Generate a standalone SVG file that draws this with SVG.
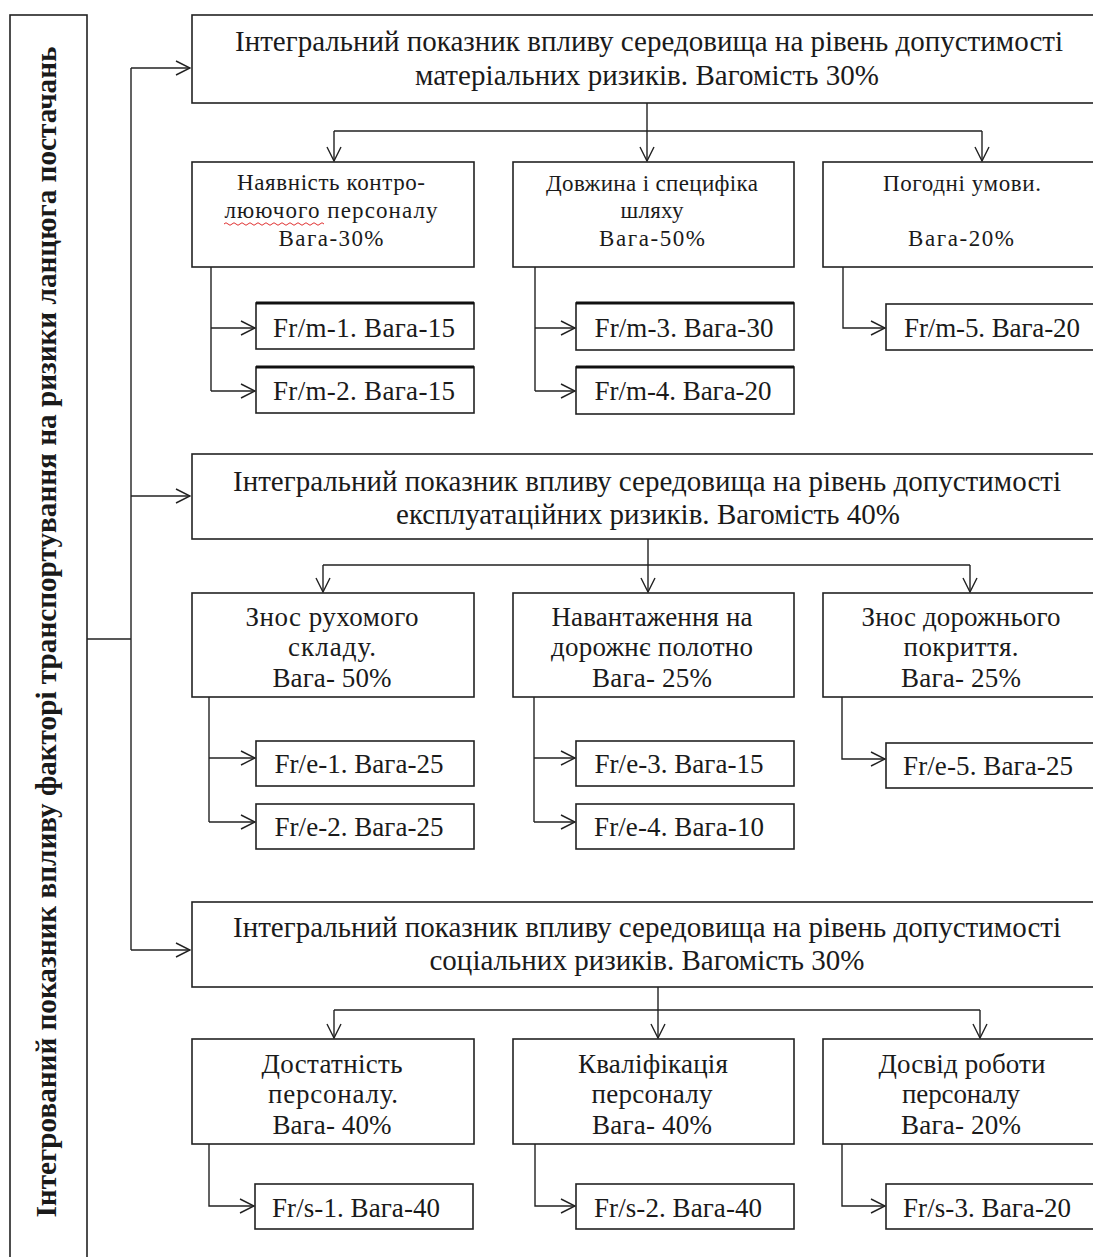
<svg xmlns="http://www.w3.org/2000/svg" width="1093" height="1257" viewBox="0 0 1093 1257">
<defs>
<marker id="arr" markerUnits="userSpaceOnUse" markerWidth="16" markerHeight="16" viewBox="0 0 16 16" refX="15" refY="8" orient="auto"><path d="M1,1 L15,8 L1,15" fill="none" stroke="#222" stroke-width="1.4"/></marker>
<style>
.b{fill:#fff;stroke:#222;stroke-width:1.6}
.c{fill:none;stroke:#222;stroke-width:1.4}
.a{fill:none;stroke:#222;stroke-width:1.4;marker-end:url(#arr)}
.th{stroke:#111;stroke-width:3.2}
text{font-family:"Liberation Serif","Times New Roman",serif;fill:#1a1a1a;text-anchor:middle}
.t1{font-size:29px}
.t2{font-size:23px}
.t3{font-size:27px}
.t4{font-size:27px}
.v{font-size:30px;font-weight:bold}
</style>
</defs>
<rect width="1093" height="1257" fill="#fff"/>

<g id="root">
<rect class="b" x="10" y="15" width="77" height="1260"/>
<text class="v" transform="translate(56,632) rotate(-90)" textLength="1171" lengthAdjust="spacingAndGlyphs">Інтегрований показник впливу факторі транспортування на ризики ланцюга постачань</text>
</g>

<g id="connectors">
<path class="c" d="M87,639 H131 M131,68 V950"/>
<path class="a" d="M131,68 H190"/>
<path class="a" d="M131,496 H190"/>
<path class="a" d="M131,950 H190"/>
<!-- section 1 -->
<path class="c" d="M647,103 V131 M334,131 H982"/>
<path class="a" d="M334,131 V161"/>
<path class="a" d="M647,131 V161"/>
<path class="a" d="M982,131 V161"/>
<path class="c" d="M211,267 V391"/>
<path class="a" d="M211,328 H255"/>
<path class="a" d="M211,391 H255"/>
<path class="c" d="M535,267 V391"/>
<path class="a" d="M535,328 H575"/>
<path class="a" d="M535,391 H575"/>
<path class="a" d="M843,267 V328 H885"/>
<!-- section 2 -->
<path class="c" d="M648,539 V565 M323,565 H970"/>
<path class="a" d="M323,565 V592"/>
<path class="a" d="M648,565 V592"/>
<path class="a" d="M970,565 V592"/>
<path class="c" d="M209,697 V822"/>
<path class="a" d="M209,758 H255"/>
<path class="a" d="M209,822 H255"/>
<path class="c" d="M534,697 V822"/>
<path class="a" d="M534,758 H575"/>
<path class="a" d="M534,822 H575"/>
<path class="a" d="M842,697 V759 H885"/>
<!-- section 3 -->
<path class="c" d="M658,987 V1010 M334,1010 H980"/>
<path class="a" d="M334,1010 V1038"/>
<path class="a" d="M658,1010 V1038"/>
<path class="a" d="M980,1010 V1038"/>
<path class="a" d="M209,1144 V1206 H254"/>
<path class="a" d="M535,1144 V1206 H575"/>
<path class="a" d="M842,1144 V1206 H885"/>
</g>

<!-- Section 1 -->
<g id="mat">
<rect class="b" x="192" y="15" width="930" height="88"/>
<text class="t1" x="649" y="51" textLength="828">Інтегральний показник впливу середовища на рівень допустимості</text>
<text class="t1" x="647" y="85" textLength="464">матеріальних ризиків. Вагомість 30%</text>
</g>
<g id="m-a">
<rect class="b" x="192" y="162" width="282" height="105"/>
<text class="t2" x="331" y="190" textLength="188">Наявність контро-</text>
<text class="t2" x="331" y="218" textLength="213">люючого персоналу</text>
<text class="t2" x="331" y="246" textLength="105">Вага-30%</text>
<path d="M224,224 q2,-2.5 4,0 t4,0 t4,0 t4,0 t4,0 t4,0 t4,0 t4,0 t4,0 t4,0 t4,0 t4,0 t4,0 t4,0 t4,0 t4,0 t4,0 t4,0 t4,0 t4,0 t4,0 t4,0 t4,0 t4,0 t4,0" fill="none" stroke="#e03030" stroke-width="1"/>
</g>
<g id="m-b">
<rect class="b" x="513" y="162" width="281" height="105"/>
<text class="t2" x="652" y="191" textLength="212">Довжина і специфіка</text>
<text class="t2" x="652" y="218" textLength="63">шляху</text>
<text class="t2" x="652" y="246" textLength="106">Вага-50%</text>
</g>
<g id="m-c">
<rect class="b" x="823" y="162" width="300" height="105"/>
<text class="t2" x="962" y="191" textLength="158">Погодні умови.</text>
<text class="t2" x="961" y="246" textLength="106">Вага-20%</text>
</g>
<g id="fr-m-1">
<rect class="b" x="256" y="303" width="218" height="46"/>
<line class="th" x1="256" y1="303" x2="474" y2="303"/>
<text class="t4" x="364" y="337" textLength="182">Fr/m-1. Вага-15</text>
</g>
<g id="fr-m-2">
<rect class="b" x="256" y="367" width="218" height="46"/>
<line class="th" x1="256" y1="367" x2="474" y2="367"/>
<text class="t4" x="364" y="400" textLength="182">Fr/m-2. Вага-15</text>
</g>
<g id="fr-m-3">
<rect class="b" x="576" y="303" width="218" height="47"/>
<line class="th" x1="576" y1="303" x2="794" y2="303"/>
<text class="t4" x="684" y="337" textLength="179">Fr/m-3. Вага-30</text>
</g>
<g id="fr-m-4">
<rect class="b" x="576" y="367" width="218" height="47"/>
<line class="th" x1="576" y1="367" x2="794" y2="367"/>
<text class="t4" x="683" y="400" textLength="177">Fr/m-4. Вага-20</text>
</g>
<g id="fr-m-5">
<rect class="b" x="886" y="304" width="230" height="46"/>
<text class="t4" x="992" y="337" textLength="176">Fr/m-5. Вага-20</text>
</g>

<!-- Section 2 -->
<g id="exp">
<rect class="b" x="192" y="454" width="930" height="85"/>
<text class="t1" x="647" y="491" textLength="828">Інтегральний показник впливу середовища на рівень допустимості</text>
<text class="t1" x="648" y="524" textLength="504">експлуатаційних ризиків. Вагомість 40%</text>
</g>
<g id="e-a">
<rect class="b" x="192" y="593" width="282" height="104"/>
<text class="t3" x="332" y="626" textLength="173">Знос рухомого</text>
<text class="t3" x="332" y="656" textLength="88">складу.</text>
<text class="t3" x="332" y="687" textLength="119">Вага- 50%</text>
</g>
<g id="e-b">
<rect class="b" x="513" y="593" width="281" height="104"/>
<text class="t3" x="652" y="626" textLength="201">Навантаження на</text>
<text class="t3" x="652" y="656" textLength="202">дорожнє полотно</text>
<text class="t3" x="652" y="687" textLength="120">Вага- 25%</text>
</g>
<g id="e-c">
<rect class="b" x="823" y="593" width="300" height="104"/>
<text class="t3" x="961" y="626" textLength="199">Знос дорожнього</text>
<text class="t3" x="961" y="656" textLength="115">покриття.</text>
<text class="t3" x="961" y="687" textLength="120">Вага- 25%</text>
</g>
<g id="fr-e-1">
<rect class="b" x="256" y="741" width="218" height="45"/>
<text class="t4" x="359" y="773" textLength="169">Fr/e-1. Вага-25</text>
</g>
<g id="fr-e-2">
<rect class="b" x="256" y="804" width="218" height="45"/>
<text class="t4" x="359" y="836" textLength="169">Fr/e-2. Вага-25</text>
</g>
<g id="fr-e-3">
<rect class="b" x="576" y="741" width="218" height="45"/>
<text class="t4" x="679" y="773" textLength="169">Fr/e-3. Вага-15</text>
</g>
<g id="fr-e-4">
<rect class="b" x="576" y="804" width="218" height="45"/>
<text class="t4" x="679" y="836" textLength="170">Fr/e-4. Вага-10</text>
</g>
<g id="fr-e-5">
<rect class="b" x="886" y="743" width="230" height="45"/>
<text class="t4" x="988" y="775" textLength="170">Fr/e-5. Вага-25</text>
</g>

<!-- Section 3 -->
<g id="soc">
<rect class="b" x="192" y="902" width="930" height="85"/>
<text class="t1" x="647" y="937" textLength="828">Інтегральний показник впливу середовища на рівень допустимості</text>
<text class="t1" x="647" y="970" textLength="435">соціальних ризиків. Вагомість 30%</text>
</g>
<g id="s-a">
<rect class="b" x="192" y="1039" width="282" height="105"/>
<text class="t3" x="332" y="1073" textLength="141">Достатність</text>
<text class="t3" x="333" y="1103" textLength="130">персоналу.</text>
<text class="t3" x="332" y="1134" textLength="119">Вага- 40%</text>
</g>
<g id="s-b">
<rect class="b" x="513" y="1039" width="281" height="105"/>
<text class="t3" x="653" y="1073" textLength="150">Кваліфікація</text>
<text class="t3" x="652" y="1103" textLength="121">персоналу</text>
<text class="t3" x="652" y="1134" textLength="120">Вага- 40%</text>
</g>
<g id="s-c">
<rect class="b" x="823" y="1039" width="300" height="105"/>
<text class="t3" x="962" y="1073" textLength="167">Досвід роботи</text>
<text class="t3" x="961" y="1103" textLength="118">персоналу</text>
<text class="t3" x="961" y="1134" textLength="120">Вага- 20%</text>
</g>
<g id="fr-s-1">
<rect class="b" x="255" y="1184" width="218" height="45"/>
<text class="t4" x="356" y="1217" textLength="168">Fr/s-1. Вага-40</text>
</g>
<g id="fr-s-2">
<rect class="b" x="576" y="1184" width="218" height="45"/>
<text class="t4" x="678" y="1217" textLength="168">Fr/s-2. Вага-40</text>
</g>
<g id="fr-s-3">
<rect class="b" x="886" y="1184" width="230" height="45"/>
<text class="t4" x="987" y="1217" textLength="168">Fr/s-3. Вага-20</text>
</g>
</svg>
